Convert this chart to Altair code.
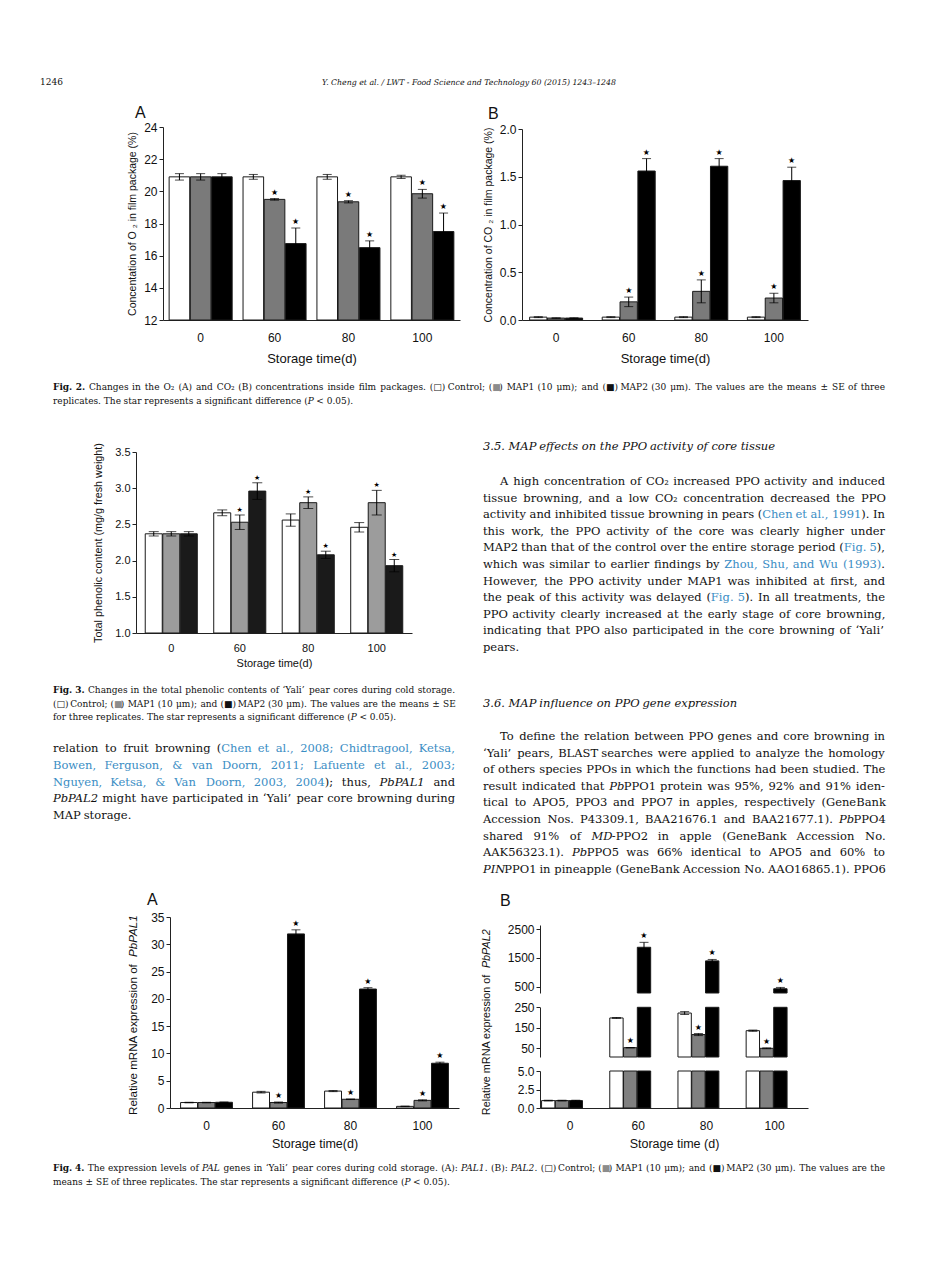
import altair as alt
import pandas as pd

times = ["0", "60", "80", "100"]
groups = ["Control", "MAP1", "MAP2"]

# Fig. 2A  O2 (%)
o2_control = [20.9, 20.9, 20.9, 20.9]
o2_control_se = [0.2, 0.15, 0.15, 0.1]
o2_map1 = [20.9, 19.5, 19.35, 19.85]
o2_map1_se = [0.2, 0.05, 0.07, 0.27]
o2_map2 = [20.9, 16.75, 16.5, 17.5]
o2_map2_se = [0.2, 0.97, 0.42, 1.15]

# Fig. 2B  CO2 (%)
co2_control = [0.03, 0.03, 0.03, 0.03]
co2_control_se = [0.005, 0.005, 0.005, 0.005]
co2_map1 = [0.02, 0.19, 0.30, 0.23]
co2_map1_se = [0.003, 0.05, 0.12, 0.05]
co2_map2 = [0.02, 1.56, 1.61, 1.46]
co2_map2_se = [0.003, 0.13, 0.08, 0.14]

# Fig. 3  total phenolic content
phe_control = [2.37, 2.66, 2.56, 2.46]
phe_control_se = [0.03, 0.04, 0.085, 0.065]
phe_map1 = [2.37, 2.53, 2.80, 2.80]
phe_map1_se = [0.03, 0.10, 0.08, 0.17]
phe_map2 = [2.37, 2.96, 2.08, 1.93]
phe_map2_se = [0.03, 0.115, 0.05, 0.085]

# Fig. 4A  PbPAL1
pal1_control = [1.0, 2.9, 3.1, 0.3]
pal1_control_se = [0.05, 0.15, 0.1, 0.05]
pal1_map1 = [1.0, 1.0, 1.6, 1.4]
pal1_map1_se = [0.05, 0.1, 0.05, 0.1]
pal1_map2 = [1.05, 31.9, 21.8, 8.2]
pal1_map2_se = [0.05, 0.75, 0.25, 0.2]

# Fig. 4B  PbPAL2
pal2_control = [1.0, 198, 222, 136]
pal2_control_se = [0.05, 2, 7, 3]
pal2_map1 = [1.0, 53, 117, 50]
pal2_map1_se = [0.05, 1, 5, 2]
pal2_map2 = [1.0, 1870, 1400, 440]
pal2_map2_se = [0.05, 170, 50, 45]

# significance stars (MAP1, MAP2) per storage time
stars_map1 = [0, 1, 1, 1]
stars_map2 = [0, 1, 1, 1]

header_left = "1246"
header_mid = "Y. Cheng et al. / LWT - Food Science and Technology 60 (2015) 1243\u20131248"

ytitle4_plain = "Relative mRNA expression of  "
ytitle4a_gene = "PbPAL1"
ytitle4b_gene = "PbPAL2"

# markup: {..} link blue, [..] grey, _.._ italic, *..* bold
cap2 = [
    "*Fig. 2.* Changes in the O\u2082 (A) and CO\u2082 (B) concentrations inside film packages. (\u25a1) Control; ([\u25a0]) MAP1 (10 \u03bcm); and (\u25a0) MAP2 (30 \u03bcm). The values are the means \u00b1 SE of three",
    "replicates. The star represents a significant difference (_P_ < 0.05).",
]
cap3 = [
    "*Fig. 3.* Changes in the total phenolic contents of \u2018Yali\u2019 pear cores during cold storage.",
    "(\u25a1) Control; ([\u25a0]) MAP1 (10 \u03bcm); and (\u25a0) MAP2 (30 \u03bcm). The values are the means \u00b1 SE",
    "for three replicates. The star represents a significant difference (_P_ < 0.05).",
]
cap4 = [
    "*Fig. 4.* The expression levels of _PAL_ genes in \u2018Yali\u2019 pear cores during cold storage. (A): _PAL1_. (B): _PAL2_. (\u25a1) Control; ([\u25a0]) MAP1 (10 \u03bcm); and (\u25a0) MAP2 (30 \u03bcm). The values are the",
    "means \u00b1 SE of three replicates. The star represents a significant difference (_P_ < 0.05).",
]

left_text = [
    "relation to fruit browning ({Chen et al., 2008; Chidtragool, Ketsa,}",
    "{Bowen, Ferguson, & van Doorn, 2011; Lafuente et al., 2003;}",
    "{Nguyen, Ketsa, & Van Doorn, 2003, 2004}); thus, _PbPAL1_ and",
    "_PbPAL2_ might have participated in \u2018Yali\u2019 pear core browning during",
    "MAP storage.",
]

head35 = ["_3.5.  MAP effects on the PPO activity of core tissue_"]
para35 = [
    "A high concentration of CO\u2082 increased PPO activity and induced",
    "tissue browning, and a low CO\u2082 concentration decreased the PPO",
    "activity and inhibited tissue browning in pears ({Chen et al., 1991}). In",
    "this work, the PPO activity of the core was clearly higher under",
    "MAP2 than that of the control over the entire storage period ({Fig. 5}),",
    "which was similar to earlier findings by {Zhou, Shu, and Wu (1993)}.",
    "However, the PPO activity under MAP1 was inhibited at first, and",
    "the peak of this activity was delayed ({Fig. 5}). In all treatments, the",
    "PPO activity clearly increased at the early stage of core browning,",
    "indicating that PPO also participated in the core browning of \u2018Yali\u2019",
    "pears.",
]
head36 = ["_3.6.  MAP influence on PPO gene expression_"]
para36 = [
    "To define the relation between PPO genes and core browning in",
    "\u2018Yali\u2019 pears, BLAST searches were applied to analyze the homology",
    "of others species PPOs in which the functions had been studied. The",
    "result indicated that _Pb_PPO1 protein was 95%, 92% and 91% iden-",
    "tical to APO5, PPO3 and PPO7 in apples, respectively (GeneBank",
    "Accession Nos. P43309.1, BAA21676.1 and BAA21677.1). _Pb_PPO4",
    "shared 91% of _MD_-PPO2 in apple (GeneBank Accession No.",
    "AAK56323.1). _Pb_PPO5 was 66% identical to APO5 and 60% to",
    "_PIN_PPO1 in pineapple (GeneBank Accession No. AAO16865.1). PPO6",
]

H = 1253
W = 936
SANS = "Liberation Sans"
SERIF = "DejaVu Serif"
INK = "#111111"
BLUE = "#3a8dc4"
GREY = "#8c8c8c"

# approximate advance widths of DejaVu Serif (em units), used for justification
CW = {" ": 0.318, "a": 0.596, "b": 0.640, "c": 0.560, "d": 0.640, "e": 0.592, "f": 0.361,
      "g": 0.640, "h": 0.642, "i": 0.321, "j": 0.321, "k": 0.606, "l": 0.321, "m": 0.960,
      "n": 0.642, "o": 0.602, "p": 0.640, "q": 0.640, "r": 0.478, "s": 0.514, "t": 0.401,
      "u": 0.642, "v": 0.570, "w": 0.831, "x": 0.570, "y": 0.570, "z": 0.524,
      "A": 0.724, "B": 0.686, "C": 0.720, "D": 0.774, "E": 0.692, "F": 0.648, "G": 0.777,
      "H": 0.856, "I": 0.402, "J": 0.403, "K": 0.738, "L": 0.644, "M": 0.992, "N": 0.811,
      "O": 0.822, "P": 0.636, "Q": 0.822, "R": 0.700, "S": 0.645, "T": 0.638, "U": 0.795,
      "V": 0.724, "W": 1.040, "X": 0.724, "Y": 0.686, "Z": 0.686,
      ".": 0.318, ",": 0.318, "(": 0.390, ")": 0.390, ";": 0.337, ":": 0.337, "-": 0.338,
      "&": 0.890, "%": 0.950, "\u2018": 0.318, "\u2019": 0.318, "\u2082": 0.400,
      "\u25a1": 0.770, "\u25a0": 0.770, "\u03bc": 0.660, "\u00b1": 0.838, "<": 0.838,
      "/": 0.337, "\u2013": 0.500}
for d in "0123456789":
    CW[d] = 0.636

# approximate advance widths of Liberation Sans (Arial metrics)
AW = {" ": 0.278, "R": 0.722, "e": 0.556, "l": 0.222, "a": 0.556, "t": 0.278, "i": 0.222,
      "v": 0.5, "m": 0.833, "N": 0.722, "A": 0.667, "x": 0.5, "p": 0.556, "r": 0.333,
      "s": 0.5, "o": 0.556, "n": 0.556, "f": 0.278}


def sans_width(text, size):
    return sum(AW.get(ch, 0.556) for ch in text) * size


def seg_width(text, size, bold):
    return sum(CW.get(ch, 0.6) for ch in text) * size * (1.08 if bold else 1.0)


def parse(line):
    words = [[]]
    cur = [""]
    st = {"c": INK, "i": False, "b": False}

    def flush():
        if cur[0]:
            words[-1].append((cur[0], st["c"], st["i"], st["b"]))
            cur[0] = ""

    for ch in line:
        if ch == " ":
            flush()
            if words[-1]:
                words.append([])
        elif ch == "{":
            flush(); st["c"] = BLUE
        elif ch == "}":
            flush(); st["c"] = INK
        elif ch == "[":
            flush(); st["c"] = GREY
        elif ch == "]":
            flush(); st["c"] = INK
        elif ch == "_":
            flush(); st["i"] = not st["i"]
        elif ch == "*":
            flush(); st["b"] = not st["b"]
        else:
            cur[0] += ch
    flush()
    return [w for w in words if w]


def layout(lines, x0, y0, width, size, lh, indent=0, justify_last=False, justify=True):
    rows = []
    for li, line in enumerate(lines):
        words = parse(line)
        ws = [sum(seg_width(t, size, b) for (t, c, it, b) in w) for w in words]
        ind = indent if li == 0 else 0
        xs0 = x0 + ind
        span = width - ind
        last = li == len(lines) - 1
        jus = justify and (justify_last or not last) and len(words) > 1
        gap = (span - sum(ws)) / (len(words) - 1) if jus else 0.318 * size
        x = xs0
        for k, (w, wd) in enumerate(zip(words, ws)):
            if jus and k == len(words) - 1:
                x = xs0 + span - wd
            sx = x
            for (t, c, it, b) in w:
                rows.append(dict(x=sx, y=y0 + li * lh, text=t, color=c, it=it, b=b, size=size))
                sx += seg_width(t, size, b)
            x += wd + gap
    return rows


def make_df(c, cse, m1, m1se, m2, m2se):
    rows = []
    for i, t in enumerate(times):
        for g, v, s, st in (("Control", c[i], cse[i], 0),
                            ("MAP1", m1[i], m1se[i], stars_map1[i]),
                            ("MAP2", m2[i], m2se[i], stars_map2[i])):
            rows.append(dict(t=t, g=g, v=v, lo=v - s, hi=v + s, star="\u2605" if st else ""))
    return pd.DataFrame(rows)


def panel(df, xr, yr, dom, colors, pi, po, xaxis, yaxis, cap=9, star_size=8,
          align=0.5, bar_filter=None, pt_filter=None):
    def xs():
        return alt.Scale(domain=times, range=xr, paddingInner=pi, paddingOuter=po, align=align)

    def os_():
        return alt.Scale(domain=groups, paddingInner=0.03, paddingOuter=0)

    def ys():
        return alt.Scale(domain=dom, range=yr, clamp=True, zero=False, nice=False)

    def X(ax):
        if ax is None:
            return alt.X("t:N", scale=xs(), axis=None, sort=times)
        return alt.X("t:N", scale=xs(), axis=ax, sort=times)

    def XO():
        return alt.XOffset("g:N", scale=os_(), sort=groups)

    bbase = alt.Chart(df)
    if bar_filter:
        bbase = bbase.transform_filter(bar_filter)
    pbase = alt.Chart(df)
    if pt_filter:
        pbase = pbase.transform_filter(pt_filter)

    yenc = alt.Y("v:Q", scale=ys(), axis=yaxis) if yaxis is not None else alt.Y("v:Q", scale=ys(), axis=None)
    bars = bbase.mark_bar(stroke="#1a1a1a", strokeWidth=1).encode(
        x=X(xaxis), xOffset=XO(),
        y=yenc, y2=alt.datum(dom[0]),
        fill=alt.Fill("g:N", scale=alt.Scale(domain=groups, range=colors), legend=None),
    )
    err = pbase.mark_rule(color="#000", strokeWidth=1).encode(
        x=X(None), xOffset=XO(),
        y=alt.Y("lo:Q", scale=ys(), axis=None), y2="hi:Q",
    )
    caps = pbase.transform_fold(["lo", "hi"], as_=["k", "e"]).mark_tick(
        color="#000", thickness=1, size=cap, orient="horizontal").encode(
        x=X(None), xOffset=XO(),
        y=alt.Y("e:Q", scale=ys(), axis=None),
    )
    stars = pbase.transform_filter("datum.star != ''").mark_text(
        color="#000", fontSize=star_size, baseline="bottom", dy=-2,
        font="DejaVu Sans").encode(
        x=X(None),
        xOffset=alt.XOffset("g:N", scale=alt.Scale(type="point", domain=groups, padding=0.5), sort=groups),
        y=alt.Y("hi:Q", scale=ys(), axis=None),
        text="star:N",
    )
    return [bars, err, caps, stars]


def yaxis(x0, vals, fmt, title, lsize=12, tsize=10, tpad=6):
    return alt.Axis(orient="left", offset=-x0, values=vals, format=fmt, tickSize=4,
                    labelFontSize=lsize, titleFontSize=tsize, titlePadding=tpad,
                    grid=False, labelPadding=2, title=title if title else "")


def xaxis(ybot, title, lsize=12, tsize=13, lpad=12, tpad=6, loff=0):
    return alt.Axis(orient="bottom", offset=ybot - H, ticks=False, tickSize=0,
                    labelAngle=0, labelFontSize=lsize, titleFontSize=tsize,
                    labelPadding=lpad, titlePadding=tpad, title=title, grid=False,
                    labelOffset=loff)


def txt(lines, x, y, size, font=SERIF, style="normal", align="left", angle=0, baseline="alphabetic"):
    return alt.Chart(pd.DataFrame({"d": [0]})).mark_text(
        text=lines, align=align, baseline=baseline, font=font, fontSize=size,
        fontStyle=style, color=INK, angle=angle,
    ).encode(x=alt.value(x), y=alt.value(y))


def vtitle(plain, gene, xc, yc, size):
    wp = sans_width(plain, size)
    wg = sans_width(gene, size)
    y0 = yc + (wp + wg) / 2
    return [
        txt([plain], xc, y0, size, font=SANS, angle=270, baseline="middle"),
        txt([gene], xc, y0 - wp, size, font=SANS, style="italic", angle=270, baseline="middle"),
    ]


c2 = ["#ffffff", "#7a7a7a", "#000000"]
c3 = ["#ffffff", "#9c9c9c", "#1a1a1a"]
c4 = ["#ffffff", "#808080", "#000000"]

df2a = make_df(o2_control, o2_control_se, o2_map1, o2_map1_se, o2_map2, o2_map2_se)
df2b = make_df(co2_control, co2_control_se, co2_map1, co2_map1_se, co2_map2, co2_map2_se)
df3 = make_df(phe_control, phe_control_se, phe_map1, phe_map1_se, phe_map2, phe_map2_se)
df4a = make_df(pal1_control, pal1_control_se, pal1_map1, pal1_map1_se, pal1_map2, pal1_map2_se)
df4b = make_df(pal2_control, pal2_control_se, pal2_map1, pal2_map1_se, pal2_map2, pal2_map2_se)

layers = []
layers += panel(df2a, [155, 452], [312, 119], [12, 24], c2, 0.147, 0.083,
                xaxis(312, "Storage time(d)", tpad=9),
                yaxis(155, list(range(12, 25, 2)), "d", "Concentation of O \u2082 in film package (%)", tsize=10.5))
layers += panel(df2b, [514, 800], [312, 121], [0, 2.0], c2, 0.27, 0.105,
                xaxis(312, "Storage time(d)", tpad=9),
                yaxis(514, [0, 0.5, 1.0, 1.5, 2.0], ".1f", "Concentration of CO \u2082 in film package (%)", tsize=10.5))
layers += panel(df3, [128, 404], [625, 444], [1.0, 3.5], c3, 0.24, 0.135,
                xaxis(625, "Storage time(d)", lsize=11, tsize=11, lpad=9, tpad=4),
                yaxis(128, [1.0, 1.5, 2.0, 2.5, 3.0, 3.5], ".1f", "Total phenolic content (mg/g fresh weight)",
                      lsize=11, tsize=10.8, tpad=11), cap=10, star_size=7)
layers += panel(df4a, [162, 451], [1100, 909], [0, 35], c4, 0.28, 0.147,
                xaxis(1100, "Storage time(d)", tsize=12.5),
                yaxis(162, list(range(0, 36, 5)), "d", None))

xr4b = [532, 800]
layers += panel(df4b, xr4b, [985, 917], [293, 2638], c4, 0.40, 0.165, None,
                yaxis(532, [500, 1500, 2500], "d", None),
                align=0.07, bar_filter="datum.v > 293", pt_filter="datum.v > 250")
layers += panel(df4b, xr4b, [1049, 999.3], [7.6, 250], c4, 0.40, 0.165, None,
                yaxis(532, [50, 150, 250], "d", None),
                align=0.07, bar_filter="datum.v > 7.6", pt_filter="datum.v > 5 && datum.v <= 250")
layers += panel(df4b, xr4b, [1100, 1063], [0, 5], c4, 0.40, 0.165,
                xaxis(1100, "Storage time (d)", tsize=12.5, loff=8),
                yaxis(532, [0, 2.5, 5.0], ".1f", None),
                align=0.07, pt_filter="datum.v <= 5")

# body text and captions, justified word by word
rows = []
rows += layout(cap2, 45, 382, 832, 9.0, 14)
rows += layout(cap3, 45, 685, 402, 9.0, 13.5)
rows += layout(cap4, 45, 1163, 832, 9.0, 14)
rows += layout(left_text, 45, 744, 402, 11.5, 16.8)
rows += layout(head35, 475, 442, 402, 11.5, 16.6, justify=False)
rows += layout(para35, 475, 477, 402, 11.5, 16.6, indent=17)
rows += layout(head36, 475, 699, 402, 11.5, 16.6, justify=False)
rows += layout(para36, 475, 732, 402, 11.5, 16.6, indent=17, justify_last=True)
tdf = pd.DataFrame(rows)

text_layers = []
for it in (False, True):
    for b in (False, True):
        sub = tdf[(tdf["it"] == it) & (tdf["b"] == b)]
        if len(sub) == 0:
            continue
        text_layers.append(
            alt.Chart(sub).mark_text(
                align="left", baseline="alphabetic", font=SERIF,
                fontStyle="italic" if it else "normal",
                fontWeight="bold" if b else "normal",
            ).encode(
                x=alt.X("x:Q", scale=None, axis=None),
                y=alt.Y("y:Q", scale=None, axis=None),
                text="text:N",
                color=alt.Color("color:N", scale=None),
                size=alt.Size("size:Q", scale=None),
            )
        )

texts = [
    txt([header_left], 32, 77, 9),
    txt([header_mid], 461, 77, 7.8, style="italic", align="center"),
    txt(["A"], 127, 110, 16, font=SANS),
    txt(["B"], 480, 111, 16, font=SANS),
    txt(["A"], 139, 897, 16, font=SANS),
    txt(["B"], 492, 898, 16, font=SANS),
]
texts += vtitle(ytitle4_plain, ytitle4a_gene, 126, 1008, 11.6)
texts += vtitle(ytitle4_plain, ytitle4b_gene, 479, 1015, 10.8)

chart = alt.layer(*layers, *text_layers, *texts).resolve_scale(
    x="independent", y="independent", xOffset="independent", fill="independent"
).resolve_axis(x="independent", y="independent").properties(
    width=W, height=H, padding=0
).configure_view(stroke=None).configure_axis(
    labelFont=SANS, titleFont=SANS, domainColor="#222", tickColor="#222",
    labelColor="#111", titleColor="#111", titleFontWeight="normal", grid=False
)

chart.save("out.html", embed_options={"renderer": "svg", "actions": False})
